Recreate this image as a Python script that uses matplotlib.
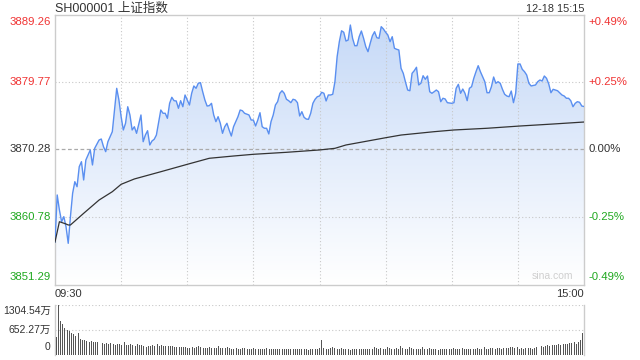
import numpy as np
import matplotlib
matplotlib.use('Agg')
import matplotlib.pyplot as plt
from matplotlib.colors import LinearSegmentedColormap

# minute index (0 = 09:30, 120 = 11:30/13:00, 240 = 15:00) and index value
minutes = [0, 1, 2, 3, 4, 5, 6, 7, 8, 9, 10, 11, 12, 13, 14, 15, 16, 17, 18, 20,
           21, 22, 23, 24, 26, 27, 28, 29, 30, 31, 32, 33, 34, 35, 36, 37, 39, 40,
           41, 42, 43, 44, 45, 46, 48, 49, 50, 51, 52, 53, 54, 55, 56, 57, 58, 59,
           60, 61, 62, 63, 64, 65, 66, 67, 68, 69, 70, 71, 72, 73, 74, 75, 76, 77,
           78, 79, 80, 81, 82, 83, 84, 85, 86, 88, 89, 90, 91, 92, 93, 94, 95, 96,
           97, 98, 99, 100, 101, 102, 103, 104, 105, 106, 107, 108, 109, 110, 111,
           112, 113, 114, 115, 116, 117, 118, 119, 120,
           121, 122, 123, 124, 125, 126, 127, 128, 129, 130, 131, 132, 133, 134,
           135, 136, 137, 138, 139, 140, 141, 142, 143, 144, 145, 146, 147, 148,
           149, 150, 151, 152, 153, 154, 155, 156, 157, 158, 159, 160, 161, 162,
           163, 164, 165, 166, 167, 168, 169, 170, 171, 172, 173, 174, 175, 176,
           177, 178, 180, 181, 182, 183, 184, 185, 186, 187, 188, 189, 190, 191,
           192, 193, 194, 195, 196, 197, 198, 199, 200, 201, 202, 203, 204, 205,
           206, 207, 208, 209, 210, 211, 212, 213, 214, 215, 216, 218, 219, 220,
           221, 222, 223, 224, 225, 226, 227, 228, 230, 231, 232, 233, 234, 235,
           236, 237, 238, 239, 240]
price = [3857.27, 3863.88, 3861.77, 3860.12, 3860.83, 3859.42, 3857.08, 3860.83,
         3864.12, 3865.75, 3865.04, 3867.86, 3868.56, 3865.99, 3868.80, 3869.50,
         3870.21, 3868.10, 3870.44, 3871.61, 3871.75, 3870.67, 3869.97, 3871.37,
         3872.78, 3875.83, 3878.88, 3877.24, 3874.89, 3873.02, 3873.96, 3876.29,
         3875.13, 3873.02, 3873.48, 3872.55, 3875.13, 3871.37, 3872.31, 3872.92,
         3870.91, 3871.47, 3871.71, 3872.31, 3875.83, 3875.37, 3875.37, 3874.66,
         3876.77, 3877.62, 3877.14, 3877.10, 3876.07, 3877.14, 3876.29, 3877.94,
         3877.24, 3876.53, 3878.18, 3879.21, 3878.88, 3879.59, 3879.67, 3878.40,
         3877.24, 3876.39, 3876.44, 3876.77, 3875.13, 3874.19, 3874.89, 3873.96,
         3872.55, 3873.48, 3873.96, 3873.02, 3872.17, 3873.48, 3874.19, 3874.89,
         3875.83, 3875.73, 3875.37, 3875.13, 3874.42, 3874.42, 3873.58, 3874.42,
         3875.45, 3873.48, 3873.26, 3873.26, 3872.46, 3874.19, 3875.13, 3876.53,
         3877.00, 3878.18, 3878.54, 3878.18, 3877.34, 3877.14, 3876.86, 3877.34,
         3877.24, 3876.86, 3874.99, 3875.59, 3874.80, 3874.56, 3874.52, 3875.37,
         3876.77, 3877.34, 3877.70, 3877.80,
         3878.32, 3878.18, 3877.10, 3877.94, 3877.94, 3878.04, 3879.81, 3883.33,
         3885.44, 3886.97, 3886.76, 3885.53, 3885.67, 3887.78, 3885.91, 3884.87,
         3884.87, 3886.14, 3886.94, 3885.91, 3884.73, 3884.03, 3885.21, 3886.28,
         3886.84, 3886.00, 3885.91, 3887.55, 3887.22, 3886.76, 3886.38, 3885.44,
         3886.14, 3884.51, 3884.37, 3884.27, 3881.69, 3880.99, 3879.77, 3878.64,
         3878.54, 3880.99, 3881.36, 3881.84, 3879.35, 3879.59, 3880.65, 3880.15,
         3880.61, 3878.40, 3878.18, 3878.40, 3878.64, 3878.40, 3877.00, 3877.48,
         3877.38, 3876.86, 3876.77, 3876.86, 3878.88, 3879.44, 3878.18, 3878.78,
         3878.18, 3877.14, 3878.88, 3879.11, 3880.29, 3881.22, 3882.06, 3881.22,
         3880.51, 3879.81, 3878.26, 3878.26, 3879.11, 3880.47, 3879.59, 3879.81,
         3879.59, 3878.74, 3878.04, 3877.80, 3877.70, 3878.50, 3876.86, 3878.18,
         3882.30, 3882.30, 3881.55, 3881.22, 3880.75, 3879.59, 3879.21, 3879.35,
         3879.81, 3880.05, 3879.91, 3880.61, 3880.29, 3879.49, 3878.26, 3878.74,
         3878.64, 3878.54, 3877.94, 3877.80, 3877.48, 3877.48, 3877.14, 3876.29,
         3876.77, 3877.00, 3876.91, 3876.39, 3876.32]

avg_minutes = [0, 2, 5, 6, 7, 13, 20, 26, 30, 36, 48, 60, 70, 81, 90, 105, 120,
               127, 132, 150, 157, 172, 181, 196, 211, 226, 240]
avg_price = [3857.27, 3860.12, 3859.80, 3859.66, 3859.66, 3861.30, 3863.17,
             3864.34, 3865.38, 3866.13, 3867.15, 3868.19, 3869.04, 3869.36,
             3869.60, 3869.88, 3870.21, 3870.44, 3870.91, 3871.93, 3872.31,
             3872.78, 3873.02, 3873.26, 3873.58, 3873.86, 3874.14]

# volume per minute, in 万
volume = [480, 1304.54, 900, 800, 715, 650, 635, 565, 560, 495,
          565, 410, 390, 390, 370, 350, 360, 345, 330, 345,
          330, 320, 300, 305, 300, 310, 300, 262, 280, 300,
          270, 330, 270, 260, 300, 250, 240, 290, 265, 250,
          230, 215, 240, 235, 260, 245, 300, 240, 250, 245,
          235, 240, 230, 225, 215, 215, 220, 200, 210, 215,
          195, 190, 200, 185, 210, 230, 200, 190, 185, 180,
          200, 190, 185, 175, 240, 190, 175, 185, 220, 170,
          165, 160, 175, 165, 160, 170, 180, 165, 160, 155,
          170, 160, 150, 165, 155, 160, 170, 165, 150, 160,
          155, 150, 165, 160, 150, 155, 160, 150, 145, 165,
          150, 145, 160, 150, 155, 140, 150, 160, 145, 155, 170,
          380, 190, 160, 150, 180, 200, 170, 150, 160, 175,
          160, 150, 155, 140, 150, 160, 150, 155, 165, 150,
          145, 160, 150, 155, 200, 170, 160, 190, 150, 145,
          220, 170, 160, 150, 175, 165, 230, 180, 160, 150,
          200, 170, 160, 155, 150, 150, 220, 160, 150, 170,
          150, 145, 150, 140, 150, 145, 150, 150, 160, 145,
          170, 160, 150, 155, 170, 160, 150, 165, 155, 150,
          160, 170, 165, 150, 210, 160, 150, 170, 180, 165,
          175, 170, 160, 180, 190, 175, 200, 210, 190, 220,
          165, 170, 160, 175, 180, 170, 165, 185, 200,
          220, 230, 215, 240, 250, 240, 260, 270, 250, 290,
          260, 280, 300, 290, 320, 310, 330, 300, 350, 380, 570]

y_ticks = [3889.26, 3879.77, 3870.28, 3860.78, 3851.29]
pct_ticks = ['+0.49%', '+0.25%', '0.00%', '-0.25%', '-0.49%']
vol_ticks = ['1304.54万', '652.27万', '0']

RED, GREEN, DARK = '#f03333', '#1fa81f', '#333333'
tick_colors = [RED, RED, DARK, GREEN, GREEN]
latin = 'Liberation Sans'
mixed = ['Liberation Sans', 'Noto Sans CJK SC']

fig = plt.figure(figsize=(6.4, 3.6), dpi=100)
ax = fig.add_axes([55 / 640, 1 - 284.5 / 360, 529 / 640, 270 / 360])
vax = fig.add_axes([55 / 640, 1 - 355 / 360, 529 / 640, 50 / 360])

ylo, yhi = y_ticks[-1], y_ticks[0]

# gradient fill under the price line
poly = ax.fill_between(minutes, price, ylo, facecolor='none', edgecolor='none')
cmap = LinearSegmentedColormap.from_list('fade', ['#ffffff', '#c4d8f7'])
grad = np.linspace(1, 0, 256).reshape(-1, 1)
im = ax.imshow(grad, extent=[0, 240, ylo, yhi], aspect='auto', cmap=cmap,
               origin='upper', zorder=1)
im.set_clip_path(poly.get_paths()[0], transform=ax.transData)

for m in range(30, 240, 30):
    ax.axvline(m, color='#c8c8c8', lw=0.8, ls=(0, (1, 2)), zorder=2)
for v in y_ticks[1:-1]:
    if v == y_ticks[2]:
        ax.axhline(v, color='#aaaaaa', lw=0.9, ls=(0, (3, 2)), zorder=2)
    else:
        ax.axhline(v, color='#c8c8c8', lw=0.8, ls=(0, (1, 2)), zorder=2)

ax.plot(minutes, price, color='#5a8ff0', lw=1.0, zorder=4)
ax.plot(avg_minutes, avg_price, color='#333333', lw=0.9, zorder=5)

ax.set_xlim(0, 240)
ax.set_ylim(ylo, yhi)
ax.set_xticks([])
ax.set_yticks([])
for s in ax.spines.values():
    s.set_color('#cccccc')
    s.set_linewidth(1)

n = len(y_ticks)
for i, (v, lab, c) in enumerate(zip(y_ticks, pct_ticks, tick_colors)):
    va = 'top' if i == 0 else ('bottom' if i == n - 1 else 'center')
    off = -1.5 if i == 0 else (2 if i == n - 1 else 0)
    ax.annotate(f'{v:.2f}', (0, v), xycoords=('axes fraction', 'data'),
                xytext=(-3, off), textcoords='offset points', ha='right', va=va,
                color=c, fontsize=8.2, family=latin)
    ax.annotate(lab, (1, v), xycoords=('axes fraction', 'data'),
                xytext=(3.5, off), textcoords='offset points', ha='left', va=va,
                color=c, fontsize=8.2, family=latin)

ax.annotate('SH000001 上证指数', (0, 1), xycoords='axes fraction',
            xytext=(0, 2), textcoords='offset points', ha='left',
            va='baseline', fontsize=9, color=DARK, family=mixed)
ax.annotate('12-18 15:15', (1, 1), xycoords='axes fraction',
            xytext=(0, 2), textcoords='offset points', ha='right',
            va='baseline', fontsize=7.8, color=DARK, family=latin)
ax.annotate('09:30', (0, 0), xycoords='axes fraction', xytext=(0, -9),
            textcoords='offset points', ha='left', va='baseline',
            fontsize=8, color=DARK, family=latin)
ax.annotate('15:00', (1, 0), xycoords='axes fraction', xytext=(0, -9),
            textcoords='offset points', ha='right', va='baseline',
            fontsize=8, color=DARK, family=latin)
ax.text(0.98, 0.012, 'sina.com', transform=ax.transAxes, ha='right',
        va='bottom', fontsize=7.5, color='#cfcfcf', family=latin)

# volume panel
vmax = 1304.54
vax.bar(range(len(volume)), volume, width=0.45, color='#555555', zorder=3)
vax.set_xlim(-0.5, 240.5)
vax.set_ylim(0, vmax)
vax.axhline(vmax, color='#c8c8c8', lw=0.8, ls=(0, (1, 2)))
vax.axhline(vmax / 2, color='#c8c8c8', lw=0.8, ls=(0, (1, 2)))
vax.set_xticks([])
vax.set_yticks([])
for k in ['top', 'bottom']:
    vax.spines[k].set_visible(False)
for k in ['left', 'right']:
    vax.spines[k].set_color('#cccccc')
    vax.spines[k].set_linewidth(1)
for v, lab, va, off in zip([vmax, vmax / 2, 0], vol_ticks,
                           ['top', 'center', 'bottom'], [-1, 0, 2]):
    vax.annotate(lab, (0, v), xycoords=('axes fraction', 'data'),
                 xytext=(-3, off), textcoords='offset points', ha='right',
                 va=va, fontsize=7.5, color=DARK, family=mixed)

fig.savefig('out.png', dpi=100)
